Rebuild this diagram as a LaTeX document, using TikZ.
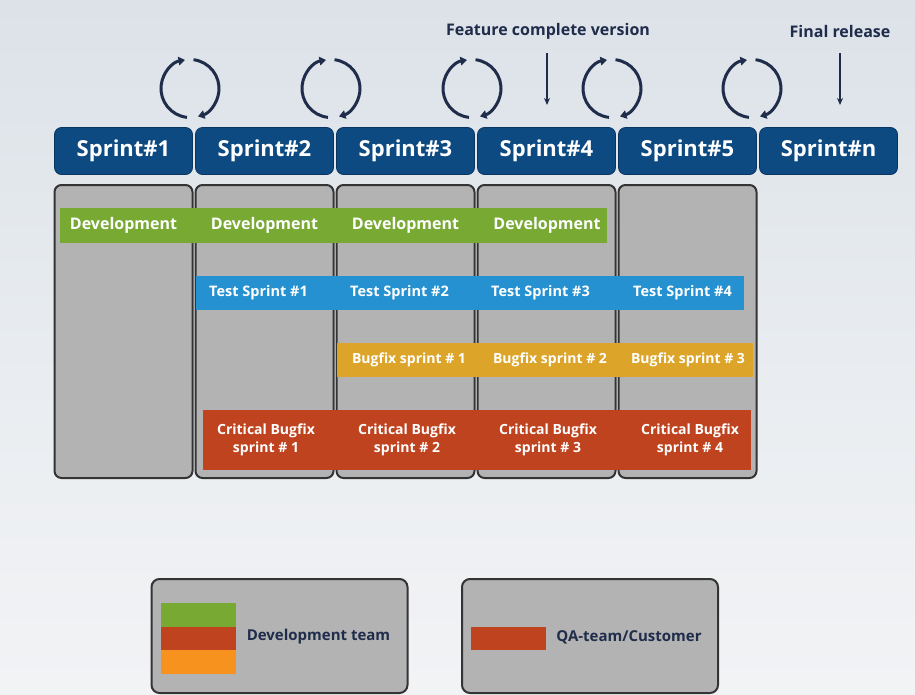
\documentclass[tikz,border=0pt]{standalone}
\usepackage{fontspec}
\setmainfont{Open Sans}
\usetikzlibrary{arrows.meta}
\definecolor{bgtop}{HTML}{DCE2E8}
\definecolor{bgmid}{HTML}{E8ECF0}
\definecolor{bgbottom}{HTML}{F2F3F5}
\definecolor{navy}{HTML}{0E4A82}
\definecolor{navyline}{HTML}{0A3560}
\definecolor{ink}{HTML}{1F2C4A}
\definecolor{colgrey}{HTML}{B3B3B3}
\definecolor{colline}{HTML}{343434}
\definecolor{devgreen}{HTML}{77A933}
\definecolor{testblue}{HTML}{2591D0}
\definecolor{bugamber}{HTML}{DCA52A}
\definecolor{critred}{HTML}{C0431F}
\definecolor{legorange}{HTML}{F7921E}

\begin{document}
\begin{tikzpicture}[x=1pt,y=-1pt,
  header/.style={draw=navyline, line width=0.8pt, fill=navy, rounded corners=7pt,
    minimum width=138pt, minimum height=47pt, inner sep=0pt, text=white,
    font=\fontsize{22}{25}\selectfont\bfseries},
  column/.style={draw=colline, line width=2pt, fill=colgrey, rounded corners=7pt,
    minimum width=138pt, minimum height=293pt, inner sep=0pt},
  band/.style={anchor=north west, inner sep=0pt, draw=none},
  bandtext/.style={text=white, inner sep=0pt, align=center},
  devtext/.style={bandtext, font=\fontsize{16}{18}\selectfont\bfseries},
  testtext/.style={bandtext, font=\fontsize{14.5}{17}\selectfont\bfseries},
  bugtext/.style={bandtext, font=\fontsize{14}{17}\selectfont\bfseries},
  crittext/.style={bandtext, font=\fontsize{14}{18}\selectfont\bfseries},
  legendbox/.style={draw=colline, line width=2pt, fill=colgrey, rounded corners=8pt,
    minimum width=256pt, minimum height=114pt, inner sep=0pt},
  swatch/.style={anchor=north west, inner sep=0pt, minimum width=75pt, minimum height=23.5pt},
  legendtext/.style={text=ink, inner sep=0pt, font=\fontsize{15}{18}\selectfont\bfseries},
  toplabel/.style={text=ink, inner sep=0pt, font=\fontsize{16}{19}\selectfont\bfseries},
  cyc/.style={draw=ink, line width=3pt, -{Triangle[length=6.5pt,width=8.5pt]}},
  marker/.style={draw=ink, line width=1.4pt, -{Stealth[length=7pt,width=6pt]}},
  cycle icon/.pic={
    \draw[cyc] (96:29) arc[start angle=96, end angle=260, radius=29];
    \draw[cyc] (-83:29) arc[start angle=-83, end angle=74, radius=29];
  }
]

% backdrop, darker at the top and lighter towards the bottom
\shade[top color=bgtop, bottom color=bgbottom, middle color=bgmid] (0,0) rectangle (915,694);
\useasboundingbox (0,0) rectangle (915,694);

% release markers
\node[toplabel] (fcv) at (548,31) {Feature complete version};
\node[toplabel] (final) at (840,31) {Final release};
\coordinate (fcvtop) at (547,53);
\coordinate (fcvtip) at (547,105);
\coordinate (fintop) at (840,53);
\coordinate (fintip) at (840,105);
\draw[marker] (fcvtop) -- (fcvtip);
\draw[marker] (fintop) -- (fintip);

% iteration cycles between sprints
\foreach \cx in {190,331,472,612,752}
  \pic at (\cx,88.5) {cycle icon};

% sprint headers and columns
\foreach \i/\lab in {1/1,2/2,3/3,4/4,5/5,6/n}{
  \node[header] (h\i) at ({123.5+141*(\i-1)},151) {Sprint\#\lab};
}
\foreach \i in {1,...,5}{
  \node[column] (c\i) at ({123.5+141*(\i-1)},331.5) {};
}

% work streams
\node[band, fill=devgreen, minimum width=547pt, minimum height=35pt] (dev) at (60,208) {};
\node[band, fill=testblue, minimum width=548pt, minimum height=34pt] (test) at (196,276) {};
\node[band, fill=bugamber, minimum width=416pt, minimum height=34pt] (bug) at (337,343) {};
\node[band, fill=critred, minimum width=548pt, minimum height=60pt] (crit) at (203,410) {};

\node[devtext] (d1) at (123.5,225.5) {Development};
\node[devtext] (d2) at (264.5,225.5) {Development};
\node[devtext] (d3) at (405.5,225.5) {Development};
\node[devtext] (d4) at (547,225.5) {Development};

\node[testtext] (t1) at (258.5,293) {Test Sprint \#1};
\node[testtext] (t2) at (399.5,293) {Test Sprint \#2};
\node[testtext] (t3) at (540.5,293) {Test Sprint \#3};
\node[testtext] (t4) at (682.5,293) {Test Sprint \#4};

\node[bugtext] (b1) at (409,360) {Bugfix sprint \# 1};
\node[bugtext] (b2) at (550,360) {Bugfix sprint \# 2};
\node[bugtext] (b3) at (688,360) {Bugfix sprint \# 3};

\node[crittext] (k1) at (266,439.5) {Critical Bugfix\\sprint \# 1};
\node[crittext] (k2) at (407,439.5) {Critical Bugfix\\sprint \# 2};
\node[crittext] (k3) at (548,439.5) {Critical Bugfix\\sprint \# 3};
\node[crittext] (k4) at (690,439.5) {Critical Bugfix\\sprint \# 4};

% legend
\node[legendbox] (lg1) at (279.5,636) {};
\node[legendbox] (lg2) at (590,636) {};
\node[swatch, fill=devgreen] (sw1) at (161,603) {};
\node[swatch, fill=critred] (sw2) at (161,626.5) {};
\node[swatch, fill=legorange] (sw3) at (161,650) {};
\node[legendtext] (lt1) at (318.5,637) {Development team};
\node[swatch, fill=critred] (sw4) at (471,626.5) {};
\node[legendtext] (lt2) at (629,637) {QA-team/Customer};

\end{tikzpicture}
\end{document}
